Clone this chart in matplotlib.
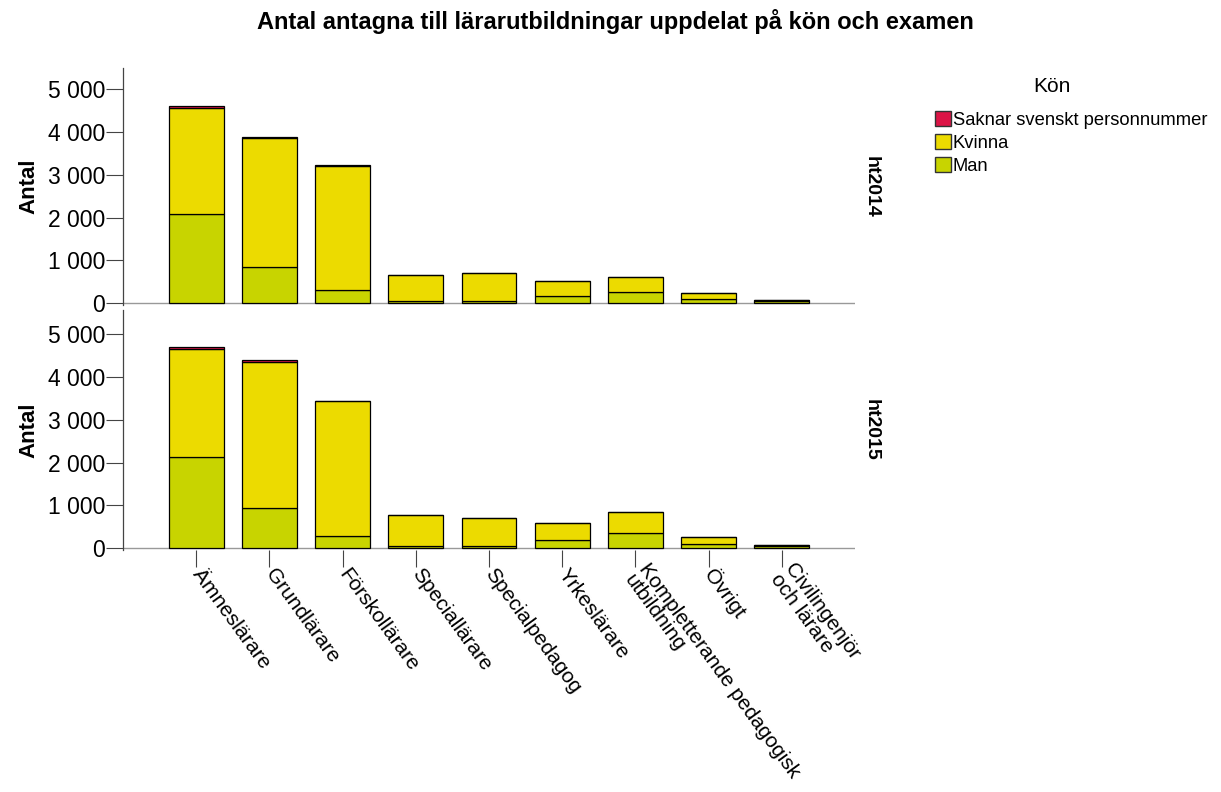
import matplotlib
matplotlib.use("Agg")
from matplotlib import pyplot as plt
from matplotlib.patches import Patch
from matplotlib.ticker import FuncFormatter
import numpy as np

plt.rcParams['font.family'] = ['Liberation Sans', 'DejaVu Sans']

# Utbildningar (x-axel)
categories = ['Ämneslärare', 'Grundlärare', 'Förskollärare', 'Speciallärare',
              'Specialpedagog', 'Yrkeslärare', 'Kompletterande pedagogisk\nutbildning',
              'Övrigt', 'Civilingenjör\noch lärare']
terms = ['ht2014', 'ht2015']

# Antal antagna per kön
man_2014 = [2090, 850, 310, 50, 60, 170, 257, 93, 45]
kvinna_2014 = [2460, 3005, 2900, 603, 654, 350, 350, 140, 30]
saknar_2014 = [50, 20, 15, 3, 3, 2, 3, 2, 2]

man_2015 = [2130, 947, 287, 60, 50, 200, 357, 93, 45]
kvinna_2015 = [2520, 3393, 3140, 710, 650, 383, 490, 170, 30]
saknar_2015 = [55, 55, 10, 3, 3, 2, 3, 2, 2]

data = {'ht2014': (man_2014, kvinna_2014, saknar_2014),
        'ht2015': (man_2015, kvinna_2015, saknar_2015)}

col_man = '#c8d400'
col_kvinna = '#ecdb00'
col_saknar = '#dc1446'

W, H = 1221, 792
fig = plt.figure(figsize=(W / 100, H / 100), dpi=100)


def px_axes(x0, y0, x1, y1):
    return fig.add_axes([x0 / W, 1 - y1 / H, (x1 - x0) / W, (y1 - y0) / H])


ax_top = px_axes(123, 68, 855, 305)
ax_bot = px_axes(123, 310, 855, 550)
x = np.arange(len(categories))
fmt = FuncFormatter(lambda v, p: '{:,}'.format(int(v)).replace(',', ' '))

for ax, term, ylim in [(ax_top, 'ht2014', (-40, 5490)), (ax_bot, 'ht2015', (-40, 5560))]:
    man, kvinna, saknar = [np.array(a) for a in data[term]]
    ax.bar(x, man, width=0.75, color=col_man, edgecolor='black', linewidth=0.9)
    ax.bar(x, kvinna, width=0.75, bottom=man, color=col_kvinna, edgecolor='black', linewidth=0.9)
    ax.bar(x, saknar, width=0.75, bottom=man + kvinna, color=col_saknar,
           edgecolor='black', linewidth=0.9)
    ax.axhline(0, color='#999999', linewidth=1.0, zorder=0)
    ax.set_xlim(-1, 9)
    ax.set_ylim(*ylim)
    ax.set_yticks([0, 1000, 2000, 3000, 4000, 5000])
    ax.yaxis.set_major_formatter(fmt)
    ax.tick_params(axis='y', length=12, width=0.8, color='#444444', labelsize=16.5, pad=1)
    for s in ['top', 'right', 'bottom']:
        ax.spines[s].set_visible(False)
    ax.spines['left'].set_color('#444444')
    ax.spines['left'].set_linewidth(0.9)
    ax.set_ylabel('Antal', fontsize=16, fontweight='bold', labelpad=6)
    ax.text(1.022, 0.5, term, transform=ax.transAxes, rotation=-90, fontsize=14,
            fontweight='bold', ha='center', va='center')

ax_top.set_xticks([])
ax_bot.set_xticks(x)
ax_bot.set_xticklabels(categories, rotation=-54, rotation_mode='anchor',
                       ha='left', va='center', fontsize=15, linespacing=0.9)
ax_bot.tick_params(axis='x', length=12, width=0.8, color='#444444', pad=3)

fig.text(615 / W, 1 - 21 / H, 'Antal antagna till lärarutbildningar uppdelat på kön och examen',
         ha='center', va='center', fontsize=17, fontweight='bold')

handles = [Patch(facecolor=col_saknar, edgecolor='#333333'),
           Patch(facecolor=col_kvinna, edgecolor='#333333'),
           Patch(facecolor=col_man, edgecolor='#333333')]
labels = ['Saknar svenskt personnummer', 'Kvinna', 'Man']
fig.text(1052 / W, 1 - 87 / H, 'Kön', ha='center', va='center', fontsize=15)
fig.legend(handles, labels, loc='upper left',
           bbox_to_anchor=(926 / W, 1 - 102 / H), frameon=False,
           fontsize=13.2, handlelength=0.85, handleheight=0.85,
           handletextpad=0.1, labelspacing=0.3, borderpad=0)

fig.savefig('out.png', dpi=100)
